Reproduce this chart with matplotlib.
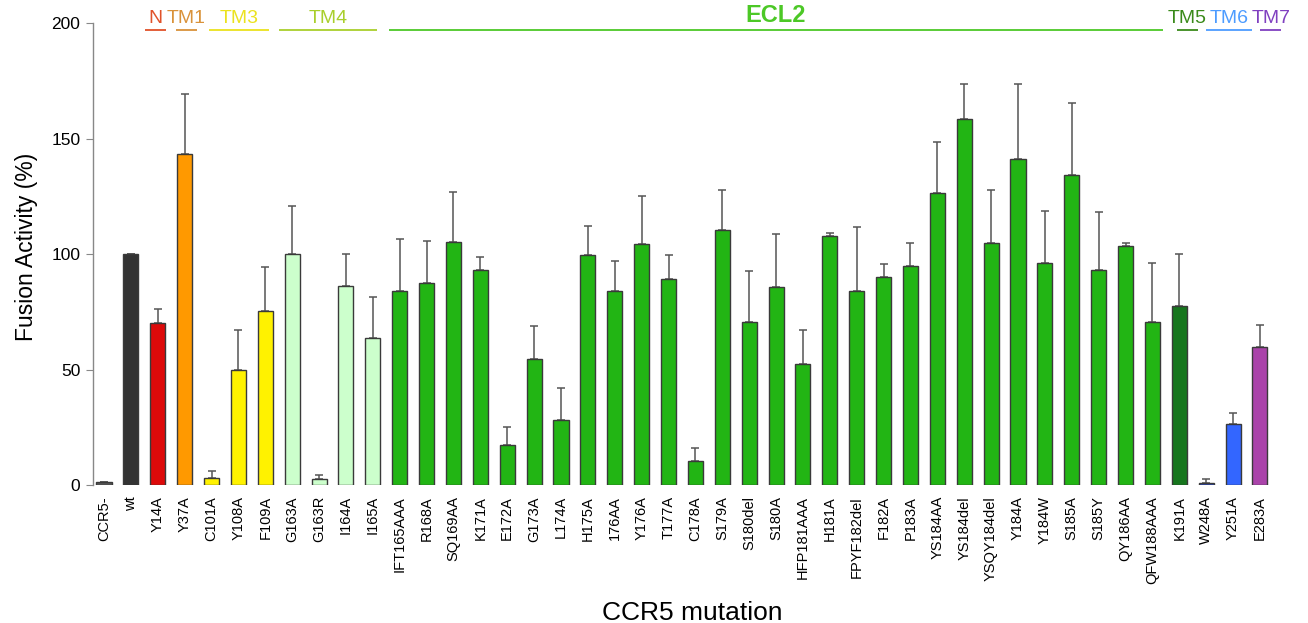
import matplotlib
matplotlib.use("Agg")
import matplotlib.pyplot as plt
import numpy as np

plt.rcParams["font.family"] = ["Liberation Sans", "DejaVu Sans"]

# CCR5 mutants, mean fusion activity (% of wt) and top of the error bar
mutants = ["CCR5-", "wt", "Y14A", "Y37A", "C101A", "Y108A", "F109A", "G163A",
           "G163R", "I164A", "I165A", "IFT165AAA", "R168A", "SQ169AA", "K171A",
           "E172A", "G173A", "L174A", "H175A", "176AA", "Y176A", "T177A",
           "C178A", "S179A", "S180del", "S180A", "HFP181AAA", "H181A",
           "FPYF182del", "F182A", "P183A", "YS184AA", "YS184del", "YSQY184del",
           "Y184A", "Y184W", "S185A", "S185Y", "QY186AA", "QFW188AAA", "K191A",
           "W248A", "Y251A", "E283A"]
activity = [1.3, 100, 70, 143.3, 3.2, 50, 75.2, 100, 2.7, 86, 63.6, 84.2,
            87.6, 105.4, 93, 17.5, 54.6, 28.3, 99.4, 83.8, 104.3, 89.4, 10.5,
            110.5, 70.5, 85.6, 52.4, 108, 83.8, 90, 94.7, 126.3, 158.3, 104.7,
            141.3, 96, 134.4, 93.3, 103.6, 70.4, 77.4, 1.0, 26.2, 59.9]
err_top = [1.3, 100, 76.2, 169.3, 6.2, 67.2, 94.3, 120.8, 4.2, 99.9, 81.2,
           106.3, 105.7, 127, 98.8, 25, 68.9, 42.2, 112.3, 97.1, 125.3, 99.5,
           16.2, 127.8, 92.7, 108.7, 67.2, 109.3, 111.9, 95.6, 104.8, 148.4,
           173.4, 127.7, 173.4, 118.5, 165.6, 118.4, 104.8, 95.9, 100.2, 2.5,
           31, 69.4]
bar_colors = (["#555555", "#333333", "#dd0a0a", "#ff9900"]
              + ["#fff200"] * 3 + ["#ccffcc"] * 4 + ["#22b514"] * 29
              + ["#17761e", "#2a46b8", "#3366ff", "#aa44aa"])

# receptor regions above the bars: label, span in bar units, colour
regions = [("N", 1.53, 2.31, "#e0522a"), ("TM1", 2.68, 3.46, "#d9923a"),
           ("TM3", 3.9, 6.14, "#ebe21e"), ("TM4", 6.51, 10.16, "#a9cf2c"),
           ("ECL2", 10.6, 39.4, "#4cc826"), ("TM5", 39.9, 40.7, "#3a8a1a"),
           ("TM6", 41.0, 42.7, "#4d9cff"), ("TM7", 43.0, 43.8, "#8040c0")]

x = np.arange(len(mutants))
act = np.array(activity)
top = np.array(err_top)

fig = plt.figure(figsize=(13.08, 6.23), dpi=100)
ax = fig.add_axes([0.0711, 0.2215, 0.916, 0.7415])

ax.errorbar(x, act, yerr=[np.zeros_like(act), top - act], fmt="none",
            ecolor="#555555", elinewidth=1.1, capsize=3, capthick=1.1,
            zorder=1)
ax.bar(x, act, width=0.56, color=bar_colors, edgecolor="#3a3a3a",
       linewidth=1.0, zorder=2)

ax.set_xlim(-0.41, 44.16)
ax.set_ylim(0, 200)
ax.set_yticks([0, 50, 100, 150, 200])
ax.tick_params(axis="y", labelsize=12.5, length=5, color="#888888",
               direction="out", pad=4)
ax.set_xticks(x)
ax.set_xticklabels(mutants, rotation=90, fontsize=10.5)
ax.tick_params(axis="x", length=0, pad=8)
for s in ["top", "right", "bottom"]:
    ax.spines[s].set_visible(False)
ax.spines["left"].set_color("#888888")
ax.spines["left"].set_linewidth(1.0)

ax.set_ylabel("Fusion Activity (%)", fontsize=16.5)
ax.yaxis.set_label_coords(-0.046, 0.515)
ax.set_xlabel("CCR5 mutation", fontsize=19, labelpad=12)

for name, x0, x1, col in regions:
    ax.plot([x0, x1], [197.2, 197.2], color=col, lw=1.3, clip_on=False,
            solid_capstyle="butt")
    bold = name == "ECL2"
    ax.text((x0 + x1) / 2, 198.4, name, color=col, ha="center", va="bottom",
            fontsize=17 if bold else 14,
            fontweight="bold" if bold else "normal", clip_on=False)

fig.savefig("out.png", dpi=100)
